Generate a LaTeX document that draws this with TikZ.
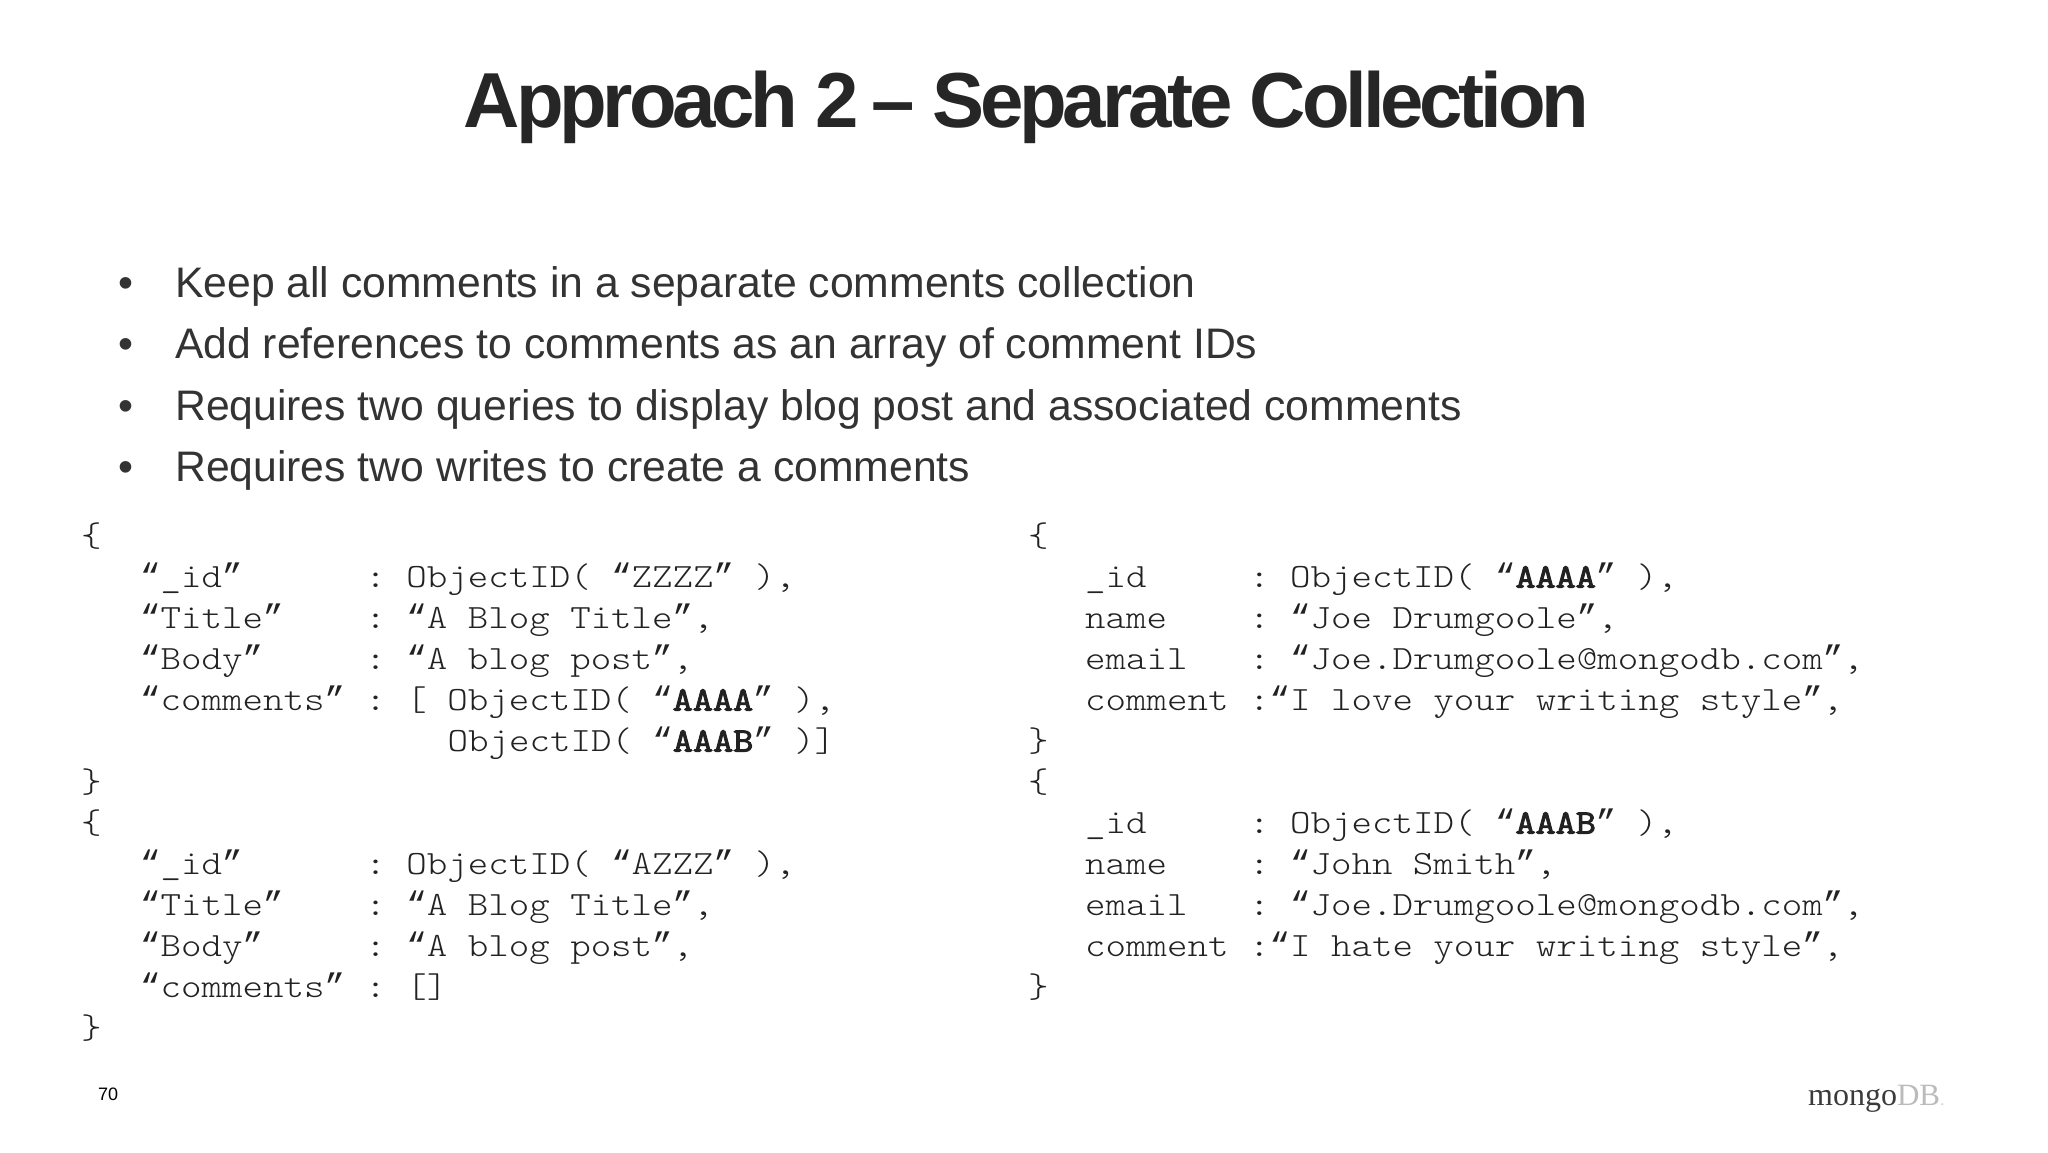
\documentclass[tikz,border=0pt]{standalone}
\usepackage{fontspec}
\usepackage{newunicodechar}
\setmainfont{Liberation Sans}
\newfontfamily\codefont[FakeStretch=1.148,BoldFont={Latin Modern Mono},BoldFeatures={FakeBold=3}]{Latin Modern Mono Light}
\newfontfamily\quotefont{Liberation Mono}
\newfontfamily\logofont{Liberation Serif}
\newcommand{\hl}[1]{\textbf{#1}}
\newcommand{\oq}{{\quotefont\symbol{"201C}}}
\newcommand{\cq}{{\quotefont\symbol{"201D}}}
\newunicodechar{“}{\oq}
\newunicodechar{”}{\cq}
\definecolor{titlegrey}{HTML}{262626}
\definecolor{bodygrey}{HTML}{333333}
\definecolor{codegrey}{HTML}{222222}
\tikzset{
  titletext/.style={anchor=base, inner sep=0pt, text=titlegrey, font=\fontsize{78}{78}\selectfont\bfseries\addfontfeature{LetterSpace=-5.4}},
  bullettext/.style={anchor=base west, inner sep=0pt, text=bodygrey, font=\fontsize{42.7}{42.7}\selectfont},
  codetext/.style={anchor=base west, inner sep=0pt, text=codegrey, font=\fontsize{34}{34}\codefont},
}
\begin{document}
\begin{tikzpicture}[x=1pt, y=-1pt]
  \useasboundingbox (0,0) rectangle (2048,1152);

  \def \rowgap {41}
  \def \firstrow {546.5}

  \node[titletext] (title) at (1026.5,127) {Approach 2\kern-5pt{} – Separate Collection};

  % bullets
  \foreach \s/\txt in {0/Keep all comments in a separate comments collection,
                       1/Add references to comments as an array of comment IDs,
                       2/Requires two queries to display blog post and associated comments,
                       3/Requires two writes to create a comments}
  {
    \node[bullettext] (dot\s) at (118, {297 + 61.5 * \s}) {•};
    \node[bullettext] (item\s) at (175, {297 + 61.5 * \s}) {\txt};
  }

  % left documents
  \foreach \s/\x/\txt in {0/81/\{,
    1/140/“\_id”~~~~~~:~ObjectID(~“ZZZZ”~){,},
    2/140/“Title”~~~~:~“A~Blog~Title”{,},
    3/140/“Body”~~~~~:~“A~blog~post”{,},
    4/140/“comments”~:~[~ObjectID(~“\hl{AAAA}”~){,},
    5/140/~~~~~~~~~~~~~~~ObjectID(~“\hl{AAAB}”~)],
    6/81/\},
    7/81/\{,
    8/140/“\_id”~~~~~~:~ObjectID(~“AZZZ”~){,},
    9/140/“Title”~~~~:~“A~Blog~Title”{,},
    10/140/“Body”~~~~~:~“A~blog~post”{,},
    11/140/“comments”~:~[],
    12/81/\}}
  {
    \node[codetext] (docl\s) at (\x, {\firstrow + \rowgap * \s}) {\txt};
  }

  % right documents
  \foreach \s/\x/\txt in {0/1028/\{,
    1/1085/\_id~~~~~:~ObjectID(~“\hl{AAAA}”~){,},
    2/1085/name~~~~:~“Joe~Drumgoole”{,},
    3/1085/email~~~:~“Joe.Drumgoole@mongodb.com”{,},
    4/1085/comment~:“I~love~your~writing~style”{,},
    5/1028/\},
    6/1028/\{,
    7/1085/\_id~~~~~:~ObjectID(~“\hl{AAAB}”~){,},
    8/1085/name~~~~:~“John~Smith”{,},
    9/1085/email~~~:~“Joe.Drumgoole@mongodb.com”{,},
    10/1085/comment~:“I~hate~your~writing~style”{,},
    11/1028/\}}
  {
    \node[codetext] (docr\s) at (\x, {\firstrow + \rowgap * \s}) {\txt};
  }

  \node[anchor=base west, inner sep=0pt, font=\fontsize{18}{18}\selectfont] (pagenum) at (98,1100) {70};
  \node[anchor=base west, inner sep=0pt, font=\fontsize{32}{32}\logofont] (logo) at (1808,1105)
    {\textcolor[HTML]{3B3B3B}{mongo}\textcolor[HTML]{BBBBBB}{\fontsize{31}{31}\selectfont DB}\textcolor[HTML]{D5D5D5}{\fontsize{18}{18}\selectfont .}};
\end{tikzpicture}
\end{document}
